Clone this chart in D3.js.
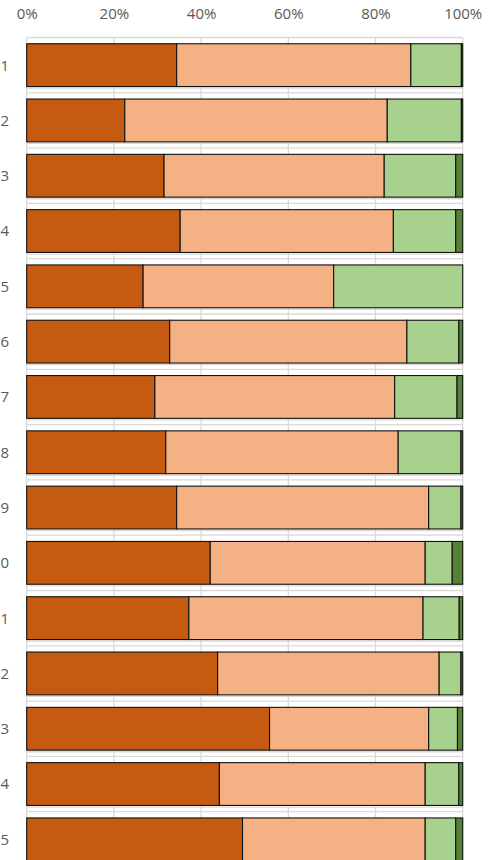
<!DOCTYPE html>
<html>
<head>
<meta charset="utf-8">
<script src="https://cdn.jsdelivr.net/npm/d3@7"></script>
<style>
  html, body { margin: 0; padding: 0; background: #fff; }
  svg { display: block; }
  text { font-family: "Open Sans", "Liberation Sans", Arial, sans-serif; fill: #595959; }
</style>
</head>
<body>
<svg id="chart" width="497" height="860"></svg>
<script>
// Category labels as visible in the picture
const categories = ["1","2","3","4","5","6","7","8","9","0","1","2","3","4","5"];
// Series values (percent share of each bar)
const seriesA = [34.4, 22.5, 31.5, 35.2, 26.7, 32.8, 29.4, 31.9, 34.4, 42.1, 37.2, 43.8, 55.7, 44.2, 49.5];
const seriesB = [53.7, 60.2, 50.5, 48.9, 43.7, 54.4, 55.0, 53.3, 57.8, 49.3, 53.7, 50.8, 36.5, 47.2, 41.9];
const seriesC = [11.6, 17.0, 16.4, 14.3, 29.6, 11.9, 14.3, 14.4,  7.4,  6.2,  8.3,  5.0,  6.6,  7.7,  7.0];
const seriesD = [ 0.3,  0.3,  1.6,  1.6,  0.0,  0.9,  1.3,  0.4,  0.4,  2.4,  0.8,  0.4,  1.2,  0.9,  1.6];
const tickValues = [0, 0.2, 0.4, 0.6, 0.8, 1.0];
const seriesKeys = ["a", "b", "c", "d"];
const colors = ["#C55A11", "#F4B183", "#A9D18E", "#548235"];

(function () {
const FONT = "'Open Sans', 'Liberation Sans', Arial, sans-serif";
const rows = categories.map((c, i) => {
  const tot = seriesA[i] + seriesB[i] + seriesC[i] + seriesD[i];
  return { idx: i, label: c,
    a: seriesA[i] / tot, b: seriesB[i] / tot, c: seriesC[i] / tot, d: seriesD[i] / tot };
});

const svg = d3.select("#chart");
const plotLeft = 26.7, plotRight = 462.7, plotTop = 37.5, step = 55.3;
const plotBottom = 860;

const x = d3.scaleLinear().domain([0, 1]).range([plotLeft, plotRight]);
const y = d3.scaleBand()
  .domain(rows.map(r => r.idx))
  .range([plotTop, plotTop + step * categories.length])
  .paddingInner(0.226).paddingOuter(0.113);

// horizontal light lines in gaps (category boundaries)
const grid = svg.append("g");
const boundaries = d3.range(categories.length + 1).map(k => plotTop + k * y.step());
grid.selectAll("line.hb").data(boundaries).join("line").attr("class", "hb")
  .attr("x1", plotLeft).attr("x2", plotRight)
  .attr("y1", d => d).attr("y2", d => d)
  .attr("stroke", "#d9d9d9").attr("stroke-width", 1.3);
grid.selectAll("line.hb2").data(rows).join("line").attr("class", "hb2")
  .attr("x1", plotLeft).attr("x2", plotRight)
  .attr("y1", r => y(r.idx) + y.bandwidth() + 1.6)
  .attr("y2", r => y(r.idx) + y.bandwidth() + 1.6)
  .attr("stroke", "#d9d9d9").attr("stroke-width", 1.3);

// vertical gridlines
grid.selectAll("line.v").data(tickValues).join("line").attr("class", "v")
  .attr("x1", d => x(d)).attr("x2", d => x(d))
  .attr("y1", plotTop).attr("y2", plotBottom)
  .attr("stroke", "#d9d9d9").attr("stroke-width", 1.3);

// top axis labels
const axis = d3.axisTop(x).tickValues(tickValues).tickFormat(d3.format(".0%")).tickSize(0).tickPadding(0);
const ax = svg.append("g").attr("transform", "translate(0,19.3)").call(axis);
ax.attr("font-family", FONT).attr("font-size", 15);
ax.select(".domain").remove();
ax.selectAll("text").attr("font-size", 15).attr("fill", "#595959")
  .attr("font-family", FONT).attr("dy", 0);

// stacked bars
const stack = d3.stack().keys(seriesKeys);
const layers = stack(rows);
const g = svg.append("g");
g.selectAll("g.layer").data(layers).join("g").attr("class", "layer")
  .attr("fill", (d, i) => colors[i])
  .selectAll("rect").data(d => d.filter(p => p[1] - p[0] > 0)).join("rect")
  .attr("x", p => x(p[0]))
  .attr("width", p => x(p[1]) - x(p[0]))
  .attr("y", p => y(p.data.idx))
  .attr("height", y.bandwidth())
  .attr("stroke", "#111").attr("stroke-width", 1.1);

// category labels
svg.append("g").selectAll("text").data(rows).join("text")
  .attr("x", 9).attr("y", r => y(r.idx) + y.bandwidth() / 2)
  .attr("dy", "0.36em").attr("text-anchor", "end")
  .attr("font-size", 15).attr("fill", "#595959").attr("font-family", FONT)
  .text(r => r.label);
})();
</script>
</body>
</html>
